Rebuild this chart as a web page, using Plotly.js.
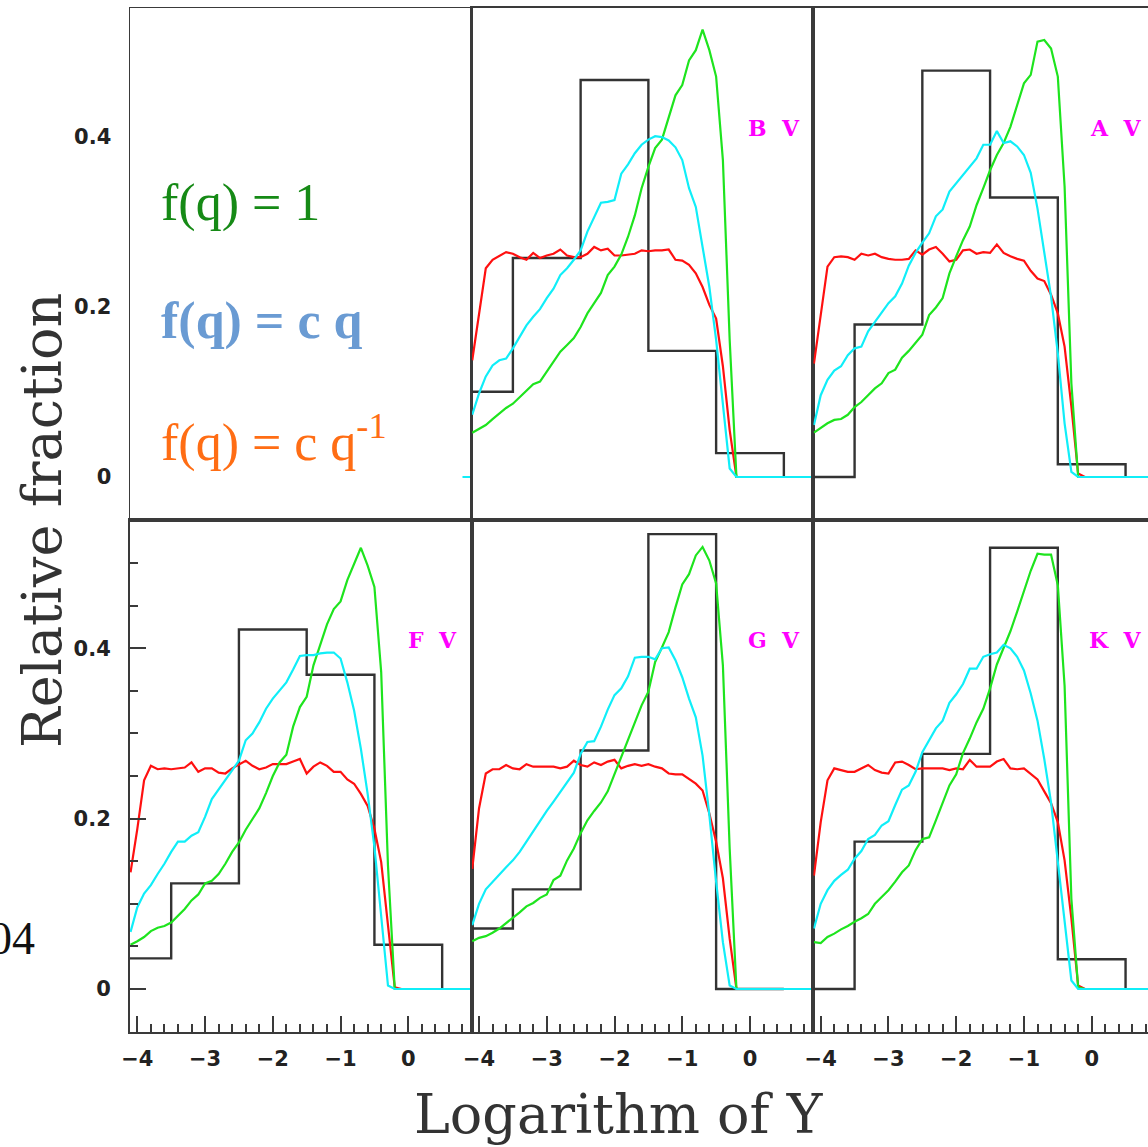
<!DOCTYPE html>
<html><head><meta charset="utf-8">
<script src="https://cdn.plot.ly/plotly-3.0.1.min.js"></script>
<style>html,body{margin:0;padding:0;background:#fff;overflow:hidden;} #chart{width:1160px;height:1147px;}</style>
</head><body><div id="chart"></div><script>
// ---------- data ----------
const logY = [-4.1,-4.0,-3.9,-3.8,-3.7,-3.6,-3.5,-3.4,-3.3,-3.2,-3.1,-3.0,-2.9,-2.8,-2.7,-2.6,-2.5,-2.4,-2.3,-2.2,-2.1,-2.0,-1.9,-1.8,-1.7,-1.6,-1.5,-1.4,-1.3,-1.2,-1.1,-1.0,-0.9,-0.8,-0.7,-0.6,-0.5,-0.4,-0.3,-0.2,-0.1,1.0];
const histBinCenters = [-4,-3,-2,-1,0];
const panelLabels = ['B V','A V','F V','G V','K V'];

const histBV = [0.100,0.257,0.466,0.148,0.028];
const histAV = [0.000,0.179,0.477,0.328,0.015];
const histFV = [0.036,0.124,0.422,0.369,0.052];
const histGV = [0.071,0.117,0.280,0.534,0.000];
const histKV = [0.000,0.173,0.276,0.518,0.035];

// f(q) = c q^-1 (red)
const redBV = [0.137,0.192,0.245,0.255,0.26,0.264,0.262,0.258,0.255,0.263,0.257,0.26,0.262,0.267,0.26,0.258,0.258,0.262,0.27,0.266,0.268,0.26,0.26,0.261,0.262,0.266,0.265,0.266,0.266,0.267,0.255,0.254,0.249,0.239,0.223,0.202,0.186,0.13,0.055,0,0,0];
const redAV = [0.133,0.188,0.247,0.258,0.259,0.258,0.255,0.262,0.26,0.262,0.258,0.256,0.255,0.255,0.256,0.266,0.261,0.267,0.27,0.262,0.253,0.255,0.266,0.267,0.262,0.264,0.263,0.273,0.263,0.259,0.256,0.254,0.242,0.233,0.23,0.214,0.192,0.153,0.083,0.004,0,0];
const redFV = [0.137,0.188,0.245,0.262,0.258,0.259,0.258,0.259,0.26,0.266,0.255,0.259,0.259,0.254,0.253,0.259,0.263,0.268,0.262,0.258,0.26,0.264,0.264,0.264,0.267,0.27,0.253,0.261,0.266,0.262,0.255,0.255,0.246,0.241,0.229,0.215,0.188,0.149,0.075,0.002,0,0];
const redGV = [0.141,0.212,0.253,0.258,0.258,0.263,0.259,0.258,0.264,0.261,0.261,0.261,0.261,0.259,0.261,0.268,0.263,0.261,0.266,0.263,0.267,0.269,0.259,0.262,0.264,0.262,0.264,0.261,0.259,0.253,0.252,0.252,0.246,0.241,0.233,0.206,0.173,0.13,0.059,0,0,0];
const redKV = [0.133,0.196,0.245,0.259,0.257,0.255,0.255,0.259,0.263,0.257,0.254,0.253,0.266,0.267,0.263,0.258,0.259,0.259,0.259,0.259,0.257,0.259,0.258,0.269,0.261,0.261,0.261,0.267,0.27,0.259,0.258,0.259,0.253,0.246,0.232,0.218,0.196,0.151,0.083,0.004,0,0];

// f(q) = c q (cyan)
const cyanBV = [0.073,0.098,0.118,0.131,0.137,0.139,0.151,0.165,0.178,0.188,0.197,0.21,0.221,0.237,0.245,0.255,0.266,0.288,0.306,0.322,0.323,0.325,0.356,0.367,0.38,0.39,0.396,0.4,0.399,0.395,0.387,0.372,0.339,0.317,0.27,0.223,0.161,0.086,0.01,0,0,0];
const cyanAV = [0.061,0.096,0.114,0.125,0.13,0.143,0.151,0.153,0.171,0.182,0.193,0.204,0.212,0.227,0.248,0.263,0.275,0.286,0.306,0.314,0.335,0.345,0.354,0.364,0.374,0.39,0.39,0.406,0.392,0.394,0.388,0.378,0.357,0.315,0.266,0.212,0.145,0.063,0.006,0,0,0];
const cyanFV = [0.067,0.096,0.112,0.122,0.135,0.147,0.161,0.173,0.173,0.18,0.184,0.202,0.223,0.234,0.245,0.257,0.268,0.292,0.3,0.313,0.329,0.341,0.351,0.36,0.375,0.391,0.392,0.392,0.394,0.395,0.395,0.388,0.36,0.327,0.282,0.229,0.167,0.083,0.004,0,0,0];
const cyanGV = [0.075,0.1,0.117,0.126,0.135,0.143,0.151,0.161,0.173,0.185,0.198,0.209,0.22,0.231,0.243,0.254,0.276,0.29,0.291,0.308,0.328,0.345,0.353,0.367,0.389,0.39,0.39,0.387,0.4,0.401,0.386,0.366,0.341,0.319,0.274,0.204,0.126,0.055,0.004,0,0,0];
const cyanKV = [0.071,0.1,0.116,0.127,0.134,0.14,0.153,0.162,0.176,0.181,0.192,0.197,0.216,0.234,0.239,0.255,0.278,0.292,0.306,0.315,0.336,0.346,0.358,0.376,0.376,0.39,0.393,0.395,0.404,0.4,0.39,0.374,0.347,0.315,0.27,0.219,0.151,0.079,0.01,0,0,0];

// f(q) = 1 (green)
const greenBV = [0.052,0.057,0.061,0.068,0.075,0.081,0.086,0.094,0.101,0.109,0.112,0.124,0.135,0.147,0.155,0.163,0.176,0.192,0.204,0.216,0.237,0.247,0.261,0.282,0.307,0.339,0.364,0.386,0.396,0.423,0.448,0.46,0.489,0.501,0.525,0.501,0.47,0.372,0.161,0,0,0];
const greenAV = [0.052,0.058,0.063,0.067,0.068,0.073,0.082,0.088,0.096,0.104,0.11,0.122,0.126,0.14,0.148,0.158,0.167,0.19,0.199,0.21,0.239,0.259,0.278,0.294,0.319,0.339,0.36,0.378,0.392,0.411,0.437,0.462,0.472,0.511,0.513,0.503,0.47,0.341,0.11,0,0,0];
const greenFV = [0.052,0.056,0.061,0.068,0.072,0.074,0.078,0.086,0.094,0.104,0.111,0.124,0.127,0.135,0.147,0.161,0.172,0.187,0.199,0.212,0.23,0.25,0.266,0.275,0.308,0.331,0.343,0.38,0.404,0.428,0.446,0.455,0.48,0.498,0.518,0.497,0.472,0.372,0.145,0,0,0];
const greenGV = [0.056,0.06,0.062,0.066,0.071,0.077,0.084,0.09,0.097,0.101,0.107,0.111,0.128,0.133,0.151,0.165,0.183,0.198,0.209,0.219,0.232,0.252,0.272,0.292,0.311,0.333,0.349,0.384,0.401,0.419,0.448,0.475,0.487,0.509,0.519,0.503,0.476,0.38,0.165,0,0,0];
const greenKV = [0.055,0.054,0.061,0.065,0.07,0.074,0.079,0.083,0.088,0.1,0.108,0.116,0.126,0.137,0.145,0.163,0.176,0.178,0.198,0.218,0.239,0.252,0.277,0.294,0.313,0.329,0.353,0.381,0.4,0.42,0.443,0.467,0.491,0.511,0.51,0.51,0.474,0.356,0.106,0.002,0,0];

// small cyan remnant visible at the right edge of the top-left panel
const stubX = [0.8, 1.0];
const stubY = [0, 0];

// ---------- layout helpers ----------
const W = 1160, H = 1147;
const colPx = [[130,471.7],[471.7,813.4],[813.4,1155.1]];
const rowPx = [[8,520],[520,1031.5]];
const xdom = c => [colPx[c][0]/W, colPx[c][1]/W];
const ydom = r => [1-rowPx[r][1]/H, 1-rowPx[r][0]/H];
const px = (x) => x/W, py = (y) => 1-y/H;

const C_RED='#ff1010', C_CYAN='#10eef8', C_GREEN='#1ee41e', C_BLACK='#333333';
const LINEC = '#3a3a3a';

const panels = [
  {ax:2, row:0, col:1, hist:histBV, red:redBV, cyan:cyanBV, green:greenBV, label:panelLabels[0]},
  {ax:3, row:0, col:2, hist:histAV, red:redAV, cyan:cyanAV, green:greenAV, label:panelLabels[1]},
  {ax:4, row:1, col:0, hist:histFV, red:redFV, cyan:cyanFV, green:greenFV, label:panelLabels[2]},
  {ax:5, row:1, col:1, hist:histGV, red:redGV, cyan:cyanGV, green:greenGV, label:panelLabels[3]},
  {ax:6, row:1, col:2, hist:histKV, red:redKV, cyan:cyanKV, green:greenKV, label:panelLabels[4]}
];

const binEdges = histBinCenters.map(c => c-0.5).concat([histBinCenters[histBinCenters.length-1]+0.5]);

const traces = [];
traces.push({x:stubX, y:stubY, xaxis:'x', yaxis:'y', mode:'lines', line:{color:C_CYAN, width:2.2}, hoverinfo:'skip', showlegend:false});
panels.forEach(p => {
  const xa = 'x'+p.ax, ya = 'y'+p.ax;
  traces.push({x:binEdges, y:p.hist.concat([0]), xaxis:xa, yaxis:ya, mode:'lines', line:{color:C_BLACK, width:2.4, shape:'hv'}, showlegend:false});
  traces.push({x:logY, y:p.red, xaxis:xa, yaxis:ya, mode:'lines', line:{color:C_RED, width:2.2}, showlegend:false});
  traces.push({x:logY, y:p.green, xaxis:xa, yaxis:ya, mode:'lines', line:{color:C_GREEN, width:2.2}, showlegend:false});
  traces.push({x:logY, y:p.cyan, xaxis:xa, yaxis:ya, mode:'lines', line:{color:C_CYAN, width:2.2}, showlegend:false});
});

const tickFont = {family:'DejaVu Sans', size:21, color:'#222', weight:'bold'};
const XR = [-4.108, 0.936];
const YR_TOP = [-0.0505, 0.5505], YR_BOT = [-0.0499, 0.5506];

const layout = {
  width: W, height: H, margin:{l:0,r:0,t:0,b:0}, paper_bgcolor:'#fff', plot_bgcolor:'#fff',
  showlegend:false, annotations:[]
};

function baseAxis(){
  return {showline:true, mirror:true, linecolor:LINEC, linewidth:2, zeroline:false, showgrid:false, fixedrange:true};
}
const all = [{ax:1,row:0,col:0}].concat(panels);
all.forEach(p => {
  const xk = p.ax===1 ? 'xaxis' : 'xaxis'+p.ax;
  const yk = p.ax===1 ? 'yaxis' : 'yaxis'+p.ax;
  const xa = Object.assign(baseAxis(), {domain:xdom(p.col), range:XR, anchor: p.ax===1?'y':'y'+p.ax});
  const ya = Object.assign(baseAxis(), {domain:ydom(p.row), range: p.row===0?YR_TOP:YR_BOT, anchor: p.ax===1?'x':'x'+p.ax});
  if (p.row===1){
    Object.assign(xa, {ticks:'inside', tick0:0, dtick:1, ticklen:16, tickwidth:2, tickcolor:LINEC,
      showticklabels:true, tickfont:tickFont, ticklabelstandoff:7,
      minor:{ticks:'inside', tick0:0, dtick:0.2, ticklen:8, tickwidth:2, tickcolor:LINEC, showgrid:false}});
  } else {
    Object.assign(xa, {ticks:'', showticklabels:false});
  }
  if (p.col===0){
    Object.assign(ya, {tick0:0, dtick:0.2, showticklabels:true, tickfont:tickFont, ticklabelstandoff:13});
    if (p.row===1){
      Object.assign(ya, {ticks:'inside', ticklen:16, tickwidth:2, tickcolor:LINEC,
        minor:{ticks:'inside', tick0:0, dtick:0.05, ticklen:8, tickwidth:2, tickcolor:LINEC, showgrid:false}});
    } else {
      Object.assign(ya, {ticks:''});
    }
  } else {
    Object.assign(ya, {ticks:'', showticklabels:false});
  }
  if (p.ax===1){ xa.linewidth = 1.5; ya.linewidth = 1.5; }
  layout[xk] = xa; layout[yk] = ya;
});

// panel labels
panels.forEach(p => {
  layout.annotations.push({xref:'x'+p.ax, yref:'y'+p.ax, x:0.35, y:0.41, xanchor:'center', yanchor:'middle',
    text:p.label.replace(' ', '\u00a0\u00a0'), showarrow:false,
    font:{family:'DejaVu Serif', size:22, color:'#ff00ff', weight:'bold'}});
});

// legend text in the top-left panel
const legFont = (c) => ({family:'Liberation Serif', size:52, color:c});
layout.annotations.push({xref:'paper', yref:'paper', x:px(159), y:py(203), xanchor:'left', yanchor:'middle', showarrow:false, text:'f(q) = 1', font:legFont('#168a16')});
layout.annotations.push({xref:'paper', yref:'paper', x:px(159), y:py(321), xanchor:'left', yanchor:'middle', showarrow:false, text:'<b>f(q) = c q</b>', font:legFont('#6a9bd3')});
layout.annotations.push({xref:'paper', yref:'paper', x:px(159), y:py(439), xanchor:'left', yanchor:'middle', showarrow:false, text:'f(q) = c q<sup>-1</sup>', font:legFont('#ff6d14')});

// axis titles
const titleFont = {family:'DejaVu Serif', size:54, color:'#333'};
layout.annotations.push({xref:'paper', yref:'paper', x:px(619), y:py(1147), xanchor:'center', yanchor:'bottom', borderpad:0, showarrow:false, text:'Logarithm of Y', font:titleFont});
layout.annotations.push({xref:'paper', yref:'paper', x:px(43), y:py(521), xanchor:'center', yanchor:'middle', showarrow:false, textangle:-90, text:'Relative fraction', font:titleFont});

// cropped stray text at the left edge
layout.annotations.push({xref:'paper', yref:'paper', x:px(37), y:py(938), xanchor:'right', yanchor:'middle', showarrow:false, text:'04', font:{family:'Liberation Serif', size:46, color:'#111'}});

Plotly.newPlot('chart', traces, layout, {staticPlot:true, displayModeBar:false});
</script></body></html>
